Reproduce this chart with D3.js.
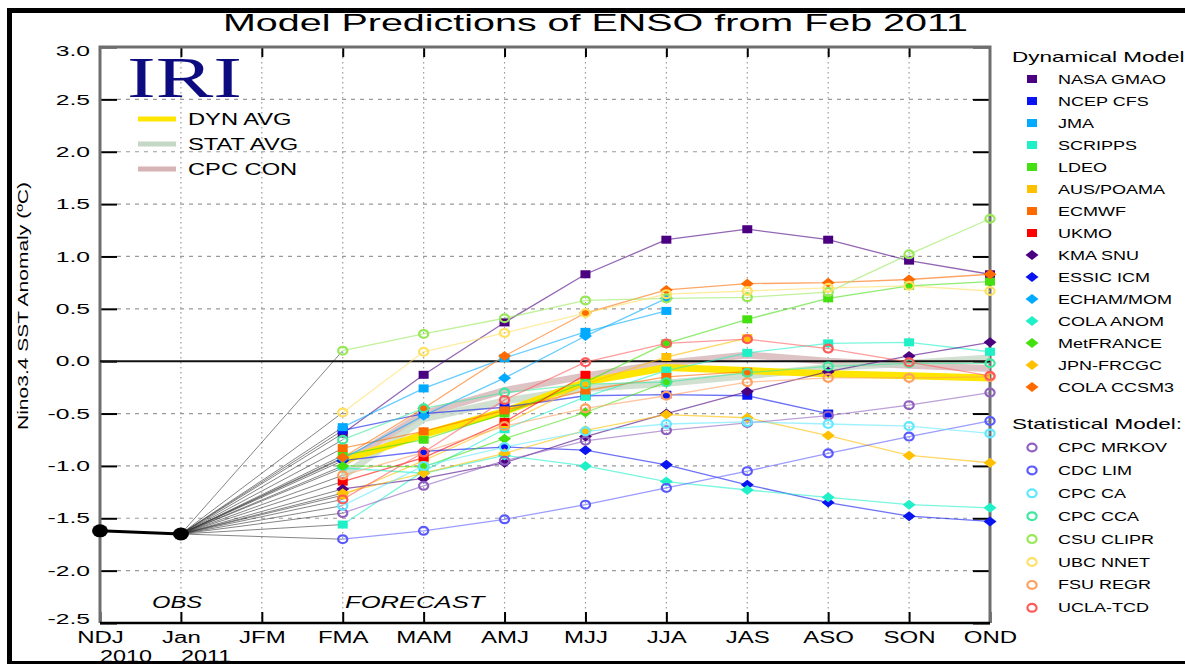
<!DOCTYPE html>
<html>
<head>
<meta charset="utf-8">
<script src="https://cdn.jsdelivr.net/npm/d3@7"></script>
<style>
  body { margin: 0; background: #fff; }
  svg { display: block; font-family: "Liberation Sans", Arial, sans-serif; }
</style>
</head>
<body>
<svg id="chart" width="1185" height="664"></svg>
<script>
// seasons on the x axis, forecasts start at FMA
const categories = ['NDJ', 'Jan', 'JFM', 'FMA', 'MAM', 'AMJ', 'MJJ', 'JJA', 'JAS', 'ASO', 'SON', 'OND'];
const yearLabels = [['NDJ', '2010'], ['Jan', '2011']];
const yTicks = [-2.5, -2.0, -1.5, -1.0, -0.5, 0.0, 0.5, 1.0, 1.5, 2.0, 2.5, 3.0];
const forecastSeasons = categories.slice(3);

// observed Nino3.4 anomaly
const obsSeasons = ['NDJ', 'Jan'];
const obsValues = [-1.62, -1.65];

// dynamical models (FMA ... OND)
const nasaGmao = [-0.69, -0.13, 0.37, 0.83, 1.16, 1.26, 1.16, 0.96, 0.83];
const ncepCfs = [-0.66, -0.50, -0.44, -0.33, -0.32, -0.33, -0.50];
const jma = [-0.63, -0.26, 0.03, 0.28, 0.48];
const scripps = [-1.56, -1.05, -0.65, -0.34, -0.09, 0.08, 0.17, 0.18, 0.09];
const ldeo = [-0.90, -0.75, -0.50, -0.20, 0.17, 0.40, 0.60, 0.72, 0.76];
const ausPoama = [-1.28, -0.95, -0.60, -0.22, 0.04, 0.22];
const ecmwf = [-0.83, -0.67, -0.47, -0.28, -0.15, -0.10];
const ukmo = [-1.15, -0.92, -0.58, -0.13];
const kmaSnu = [-1.22, -1.12, -0.97, -0.72, -0.50, -0.29, -0.10, 0.05, 0.18];
const essicIcm = [-0.95, -0.86, -0.82, -0.85, -0.99, -1.18, -1.35, -1.48, -1.53];
const echamMom = [-0.93, -0.52, -0.16, 0.24, 0.60];
const colaAnom = [-1.02, -1.07, -0.90, -1.00, -1.15, -1.23, -1.30, -1.37, -1.40];
const metFrance = [-1.00, -1.01, -0.74, -0.49, -0.20];
const jpnFrcgc = [-1.26, -1.07, -0.88, -0.66, -0.51, -0.54, -0.71, -0.90, -0.97];
const colaCcsm3 = [-0.92, -0.45, 0.05, 0.46, 0.68, 0.74, 0.75, 0.78, 0.83];

// statistical models
const cpcMrkov = [-1.45, -1.19, -0.95, -0.76, -0.66, -0.59, -0.52, -0.42, -0.30];
const cdcLim = [-1.70, -1.62, -1.51, -1.37, -1.21, -1.05, -0.88, -0.72, -0.57];
const cpcCa = [-1.38, -1.00, -0.82, -0.67, -0.60, -0.58, -0.60, -0.62, -0.69];
const cpcCca = [-0.75, -0.45, -0.30, -0.22, -0.20, -0.11, -0.05, -0.02, -0.02];
const csuClipr = [0.10, 0.26, 0.41, 0.58, 0.60, 0.61, 0.66, 1.02, 1.36];
const ubcNnet = [-0.49, 0.09, 0.27, 0.46, 0.64, 0.67, 0.70, 0.72, 0.67];
const fsuRegr = [-1.09, -0.87, -0.62, -0.45, -0.33, -0.20, -0.16, -0.16, -0.15];
const uclaTcd = [-1.32, -0.87, -0.37, -0.01, 0.17, 0.21, 0.12, -0.01, -0.14];

// averages
const dynAvg = [-0.95, -0.70, -0.48, -0.20, -0.06, -0.09, -0.12, -0.14, -0.16];
const statAvg = [-1.10, -0.55, -0.38, -0.26, -0.21, -0.14, -0.06, -0.02, 0.03];
const cpcCon = [-0.98, -0.50, -0.28, -0.14, -0.02, 0.06, 0.00, -0.04, -0.07];

const dynNames = ['NASA GMAO', 'NCEP CFS', 'JMA', 'SCRIPPS', 'LDEO', 'AUS/POAMA', 'ECMWF', 'UKMO',
  'KMA SNU', 'ESSIC ICM', 'ECHAM/MOM', 'COLA ANOM', 'MetFRANCE', 'JPN-FRCGC', 'COLA CCSM3'];
const dynSeries = [nasaGmao, ncepCfs, jma, scripps, ldeo, ausPoama, ecmwf, ukmo,
  kmaSnu, essicIcm, echamMom, colaAnom, metFrance, jpnFrcgc, colaCcsm3];
const statNames = ['CPC MRKOV', 'CDC LIM', 'CPC CA', 'CPC CCA', 'CSU CLIPR', 'UBC NNET', 'FSU REGR', 'UCLA-TCD'];
const statSeries = [cpcMrkov, cdcLim, cpcCa, cpcCca, csuClipr, ubcNnet, fsuRegr, uclaTcd];
const avgNames = ['DYN AVG', 'STAT AVG', 'CPC CON'];
const avgSeries = [dynAvg, statAvg, cpcCon];

const dynColors = ['#4b0082', '#0a14f0', '#00aaff', '#20f0c8', '#44e010', '#ffc000', '#ff6a00', '#ff0000',
  '#4b0082', '#0a14f0', '#00aaff', '#20f0c8', '#44e010', '#ffc000', '#ff6a00'];
const statColors = ['#9060c0', '#5a5aff', '#60e8ff', '#40e8a0', '#98e858', '#ffe060', '#ffa060', '#ff5a5a'];
const avgColors = ['#ffe600', '#c5d8c5', '#d6b4b6'];

const models = dynNames.map((name, i) => ({
  name, values: dynSeries[i], color: dynColors[i], shape: i < 8 ? 'square' : 'diamond'
})).concat(statNames.map((name, i) => ({
  name, values: statSeries[i], color: statColors[i], shape: 'circle'
})));

const svg = d3.select('#chart');
const plotLeft = 100, plotRight = 990, plotTop = 47, plotBottom = 623;

const x = d3.scalePoint().domain(categories).range([plotLeft, plotRight]);
const y = d3.scaleLinear().domain([-2.5, 3.0]).range([plotBottom, plotTop]);

// the original image is squashed wide, so stretch text the same way
function stretch(sel, k) {
  sel.each(function() {
    const w = this.getComputedTextLength();
    d3.select(this).attr('textLength', w * k).attr('lengthAdjust', 'spacingAndGlyphs');
  });
}

function marker(sel, shape, color) {
  if (shape === 'circle') {
    sel.append('ellipse').attr('rx', 4.6).attr('ry', 3.9)
      .attr('fill', 'none').attr('stroke', color).attr('stroke-width', 2.2);
  } else if (shape === 'square') {
    sel.append('path').attr('d', 'M-5,-4H5V4H-5Z').attr('fill', color);
  } else {
    sel.append('path').attr('d', 'M0,-5L6.5,0L0,5L-6.5,0Z').attr('fill', color);
  }
}

// grid
svg.append('g')
  .selectAll('line')
  .data(yTicks.filter(d => d > -2.5 && d < 3.0 && d !== 0))
  .join('line')
  .attr('x1', plotLeft + 17).attr('x2', plotRight - 17)
  .attr('y1', d => y(d)).attr('y2', d => y(d))
  .attr('stroke', '#9a9a9a').attr('stroke-width', 1.2).attr('stroke-dasharray', '4,5');

svg.append('g')
  .selectAll('line')
  .data(categories.slice(1, -1))
  .join('line')
  .attr('x1', d => x(d)).attr('x2', d => x(d))
  .attr('y1', plotTop).attr('y2', plotBottom)
  .attr('stroke', '#9a9a9a').attr('stroke-width', 1.2).attr('stroke-dasharray', '1.5,3.5');

// axes
const yAxis = svg.append('g')
  .attr('transform', `translate(${plotLeft},0)`)
  .call(d3.axisLeft(y).tickValues(yTicks).tickSizeInner(-17).tickSizeOuter(0).tickPadding(10)
    .tickFormat(d => d.toFixed(1)));
yAxis.select('.domain').remove();
yAxis.selectAll('line').attr('stroke', '#000').attr('stroke-width', 2);
yAxis.selectAll('text')
  .attr('font-size', 14.5).attr('fill', '#000')
  .attr('y', d => d === 3.0 ? 4 : d === -2.5 ? -4 : 0);
stretch(yAxis.selectAll('text'), 1.7);

const yAxisR = svg.append('g')
  .attr('transform', `translate(${plotRight},0)`)
  .call(d3.axisRight(y).tickValues(yTicks).tickSizeInner(-17).tickSizeOuter(0).tickFormat(''));
yAxisR.select('.domain').remove();
yAxisR.selectAll('line').attr('stroke', '#000').attr('stroke-width', 2);

const xAxis = svg.append('g')
  .attr('transform', `translate(0,${plotBottom})`)
  .call(d3.axisBottom(x).tickSizeInner(-11).tickSizeOuter(0).tickPadding(9));
xAxis.select('.domain').remove();
xAxis.selectAll('line').attr('stroke', '#000').attr('stroke-width', 2);
xAxis.selectAll('text').attr('font-size', 16).attr('fill', '#000');
stretch(xAxis.selectAll('text'), 1.5);

const xAxisT = svg.append('g')
  .attr('transform', `translate(0,${plotTop})`)
  .call(d3.axisTop(x).tickValues(categories.slice(1, -1)).tickSizeInner(-10).tickSizeOuter(0).tickFormat(''));
xAxisT.select('.domain').remove();
xAxisT.selectAll('line').attr('stroke', '#000').attr('stroke-width', 2);

const years = svg.append('g')
  .selectAll('text')
  .data(yearLabels)
  .join('text')
  .attr('x', d => x(d[0])).attr('y', 662)
  .attr('font-size', 16)
  .text(d => d[1]);
stretch(years, 1.46);

// plot frame
svg.append('path')
  .attr('d', `M${plotLeft},${plotBottom}V${plotTop}H${plotRight}V${plotBottom}`)
  .attr('fill', 'none').attr('stroke', '#6e6e6e').attr('stroke-width', 3);
svg.append('line')
  .attr('x1', plotLeft).attr('x2', plotRight).attr('y1', plotBottom).attr('y2', plotBottom)
  .attr('stroke', '#000').attr('stroke-width', 2.5);

// fan of lines from the last observation to each first forecast
const jan = { x: x('Jan'), y: y(obsValues[1]) };
svg.append('g')
  .selectAll('line')
  .data(models)
  .join('line')
  .attr('x1', jan.x).attr('y1', jan.y)
  .attr('x2', x('FMA')).attr('y2', d => y(d.values[0]))
  .attr('stroke', '#333').attr('stroke-width', 0.8).attr('stroke-opacity', 0.75);

const line = d3.line()
  .x((d, i) => x(forecastSeasons[i]))
  .y(d => y(d));

// average bands
const bandData = avgSeries.map((values, i) => ({ name: avgNames[i], values, color: avgColors[i] })).reverse();
svg.append('g')
  .selectAll('path')
  .data(bandData)
  .join('path')
  .attr('d', d => line(d.values))
  .attr('fill', 'none')
  .attr('stroke', d => d.color)
  .attr('stroke-width', 7)
  .attr('stroke-opacity', d => d.name === 'DYN AVG' ? 1 : 0.8)
  .attr('stroke-linejoin', 'round');

// zero line
svg.append('line')
  .attr('x1', plotLeft).attr('x2', plotRight).attr('y1', y(0)).attr('y2', y(0))
  .attr('stroke', '#111').attr('stroke-width', 2);

// model lines
svg.append('g')
  .selectAll('path')
  .data(models)
  .join('path')
  .attr('d', d => line(d.values))
  .attr('fill', 'none')
  .attr('stroke', d => d.color)
  .attr('stroke-width', 1.3)
  .attr('stroke-opacity', 0.6);

// model markers
models.forEach(m => {
  svg.append('g')
    .selectAll('g')
    .data(m.values)
    .join('g')
    .attr('transform', (d, i) => `translate(${x(forecastSeasons[i])},${y(d)})`)
    .each(function() { marker(d3.select(this), m.shape, m.color); });
});

// observations
svg.append('path')
  .attr('d', d3.line().x((d, i) => x(obsSeasons[i])).y(d => y(d))(obsValues))
  .attr('fill', 'none').attr('stroke', '#000').attr('stroke-width', 3);
svg.append('g')
  .selectAll('ellipse')
  .data(obsValues)
  .join('ellipse')
  .attr('cx', (d, i) => x(obsSeasons[i])).attr('cy', d => y(d))
  .attr('rx', 8).attr('ry', 6.5)
  .attr('fill', '#000');

// labels inside the plot
const obsText = svg.append('text')
  .attr('x', 152).attr('y', 608).attr('font-size', 16).attr('font-style', 'italic')
  .text('OBS');
stretch(obsText, 1.48);
const fcText = svg.append('text')
  .attr('x', 345).attr('y', 608).attr('font-size', 16).attr('font-style', 'italic')
  .text('FORECAST');
stretch(fcText, 1.6);

svg.append('text')
  .attr('x', 127).attr('y', 97)
  .attr('font-family', '"Liberation Serif", "Times New Roman", serif')
  .attr('font-size', 56).attr('fill', '#0c0c80')
  .attr('textLength', 115).attr('lengthAdjust', 'spacingAndGlyphs')
  .text('IRI');

// average legend
const avgLegend = svg.append('g')
  .selectAll('g')
  .data(avgNames)
  .join('g')
  .attr('transform', (d, i) => `translate(0,${119 + i * 25})`);
avgLegend.append('line')
  .attr('x1', 138).attr('x2', 176)
  .attr('stroke', (d, i) => avgColors[i]).attr('stroke-width', 5);
avgLegend.append('text')
  .attr('x', 188).attr('y', 6).attr('font-size', 16)
  .text(d => d);
stretch(avgLegend.selectAll('text'), 1.48);

// title and axis label
svg.append('text')
  .attr('x', 223).attr('y', 31).attr('font-size', 24.5)
  .attr('textLength', 745).attr('lengthAdjust', 'spacingAndGlyphs')
  .text('Model Predictions of ENSO from Feb 2011');

svg.append('text')
  .attr('transform', 'translate(28,306) rotate(-90)')
  .attr('text-anchor', 'middle').attr('font-size', 15)
  .attr('textLength', 248).attr('lengthAdjust', 'spacingAndGlyphs')
  .text('Nino3.4 SST Anomaly (\u00baC)');

// right legend
const dynTitle = svg.append('text')
  .attr('x', 1012).attr('y', 62).attr('font-size', 14.5)
  .text('Dynamical Model');
stretch(dynTitle, 1.55);
const statTitle = svg.append('text')
  .attr('x', 1012).attr('y', 429).attr('font-size', 14.5)
  .text('Statistical Model:');
stretch(statTitle, 1.55);

const legendItems = models.map((m, i) => ({
  ...m, cy: i < 15 ? 79 + i * 22 : 447.5 + (i - 15) * 22.9
}));
const legend = svg.append('g')
  .selectAll('g')
  .data(legendItems)
  .join('g')
  .attr('transform', d => `translate(1032,${d.cy})`);
legend.each(function(d) { marker(d3.select(this), d.shape, d.color); });
legend.append('text')
  .attr('x', 26).attr('y', 4.5).attr('font-size', 12)
  .text(d => d.name);
stretch(legend.selectAll('text'), 1.5);

// outer black frame
svg.append('rect')
  .attr('x', 9.5).attr('y', 10.5).attr('width', 1200).attr('height', 653)
  .attr('fill', 'none').attr('stroke', '#000').attr('stroke-width', 5);
</script>
</body>
</html>
